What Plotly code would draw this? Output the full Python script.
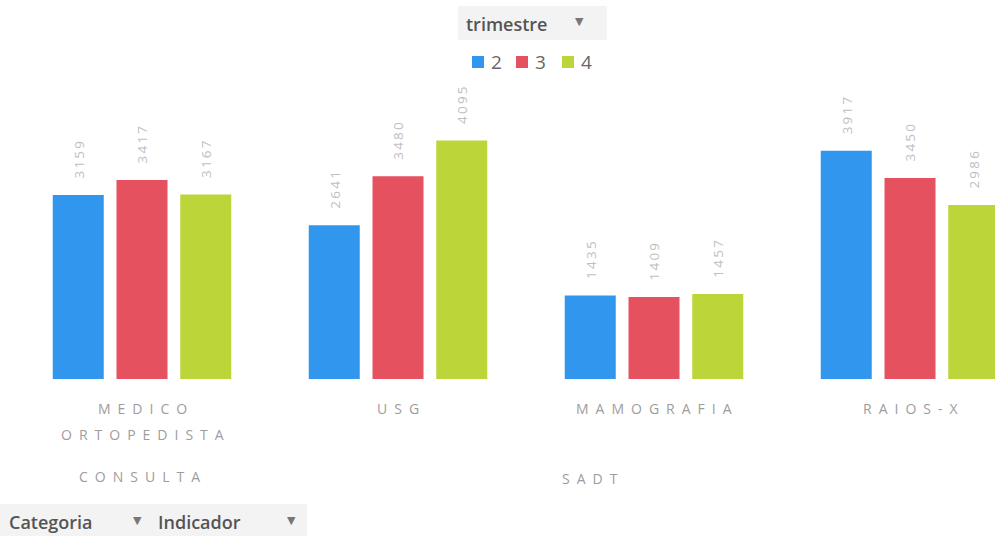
import plotly.graph_objects as go

# ---- data ----
indicadores = ["MEDICO ORTOPEDISTA", "USG", "MAMOGRAFIA", "RAIOS-X"]
categorias = ["CONSULTA", "SADT", "SADT", "SADT"]
trimestres = ["2", "3", "4"]
t2 = [3159, 2641, 1435, 3917]
t3 = [3417, 3480, 1409, 3450]
t4 = [3167, 4095, 1457, 2986]

series = [t2, t3, t4]
colors = ["#3197ee", "#e5515f", "#bcd63a"]

FONT = "Open Sans"

W, H = 995, 536
# plot area in page pixels
PL, PR, PT, PB = 14, 995, 90, 379


def spaced(s, sep="\u2009"):
    return sep.join(list(s))


def px(xpage):
    return (xpage - PL) / (PR - PL)


def py(ypage):
    return (PB - ypage) / (PB - PT)


fig = go.Figure()
for name, vals, col in zip(trimestres, series, colors):
    fig.add_trace(go.Bar(
        x=indicadores, y=vals, name=name,
        marker=dict(color=col, line=dict(width=0)),
        text=["\u2002\u2002" + spaced(str(v)) for v in vals],
        textposition="outside", textangle=-90,
        textfont=dict(family=FONT, size=14, color="#c0c0c0"),
        cliponaxis=False, showlegend=False,
    ))

annotations = []
shapes = []
LBL = dict(family=FONT, size=14, color="#9d9d9d")

# level-1 labels (multi-word names wrap onto separate lines)
for i, name in enumerate(indicadores):
    for j, ln in enumerate(name.split(" ")):
        annotations.append(dict(
            x=i, y=py(408 + 26 * j), xref="x", yref="paper",
            text=spaced(ln, "\u2002"), showarrow=False, font=LBL,
            xanchor="center", yanchor="middle"))
# level-2 labels
annotations.append(dict(x=-0.01, y=py(477), xref="x", yref="paper",
                        text=spaced(categorias[0], "\u2002"), showarrow=False, font=LBL,
                        xanchor="center", yanchor="middle"))
annotations.append(dict(x=1.75, y=py(478), xref="x", yref="paper",
                        text=spaced(categorias[1], "\u2002"), showarrow=False, font=LBL,
                        xanchor="center", yanchor="middle"))

# custom legend (squares + names)
leg_sq_x = [472, 516, 562]
for name, col, sx in zip(trimestres, colors, leg_sq_x):
    shapes.append(dict(type="rect", xref="paper", yref="paper",
                       x0=px(sx), x1=px(sx + 12), y0=py(68), y1=py(56),
                       fillcolor=col, line=dict(width=0)))
    annotations.append(dict(x=px(sx + 17), y=py(62), xref="paper", yref="paper",
                            text=name, showarrow=False, xanchor="left", yanchor="middle",
                            font=dict(family=FONT, size=19, color="#666666")))

# field buttons
BTN = dict(family=FONT, size=18, color="#555555", weight=600)
ARW = dict(family="DejaVu Sans", size=11, color="#777777")
shapes.append(dict(type="rect", xref="paper", yref="paper",
                   x0=px(458), x1=px(607), y0=py(40), y1=py(6),
                   fillcolor="#f3f3f3", line=dict(width=0), layer="below"))
annotations.append(dict(x=px(464), y=py(24), xref="paper", yref="paper",
                        text="trimestre", showarrow=False, xanchor="left", yanchor="middle",
                        font=BTN))
annotations.append(dict(x=px(579), y=py(22), xref="paper", yref="paper",
                        text="▼", showarrow=False, xanchor="center", yanchor="middle",
                        font=ARW))

shapes.append(dict(type="rect", xref="paper", yref="paper",
                   x0=px(0), x1=px(307), y0=py(540), y1=py(504),
                   fillcolor="#f3f3f3", line=dict(width=0), layer="below"))
annotations.append(dict(x=px(7), y=py(522), xref="paper", yref="paper",
                        text="Categoria", showarrow=False, xanchor="left", yanchor="middle",
                        font=BTN))
annotations.append(dict(x=px(137), y=py(520), xref="paper", yref="paper",
                        text="▼", showarrow=False, xanchor="center", yanchor="middle",
                        font=ARW))
annotations.append(dict(x=px(156), y=py(522), xref="paper", yref="paper",
                        text="Indicador", showarrow=False, xanchor="left", yanchor="middle",
                        font=BTN))
annotations.append(dict(x=px(291), y=py(520), xref="paper", yref="paper",
                        text="▼", showarrow=False, xanchor="center", yanchor="middle",
                        font=ARW))

fig.update_layout(
    width=W, height=H,
    margin=dict(l=PL, r=W - PR, t=PT, b=H - PB, pad=0),
    paper_bgcolor="white", plot_bgcolor="white",
    barmode="group", bargap=0.253, bargroupgap=0.2,
    xaxis=dict(type="category", range=[-0.5, 3.332], showticklabels=False,
               showgrid=False, zeroline=False, showline=False, ticks=""),
    yaxis=dict(range=[0, 4961], visible=False),
    showlegend=False,
    annotations=annotations, shapes=shapes,
)

fig.write_html("out.html",
               config={"displayModeBar": False},
               post_script="document.body.style.margin='0';document.body.style.overflow='hidden';")
